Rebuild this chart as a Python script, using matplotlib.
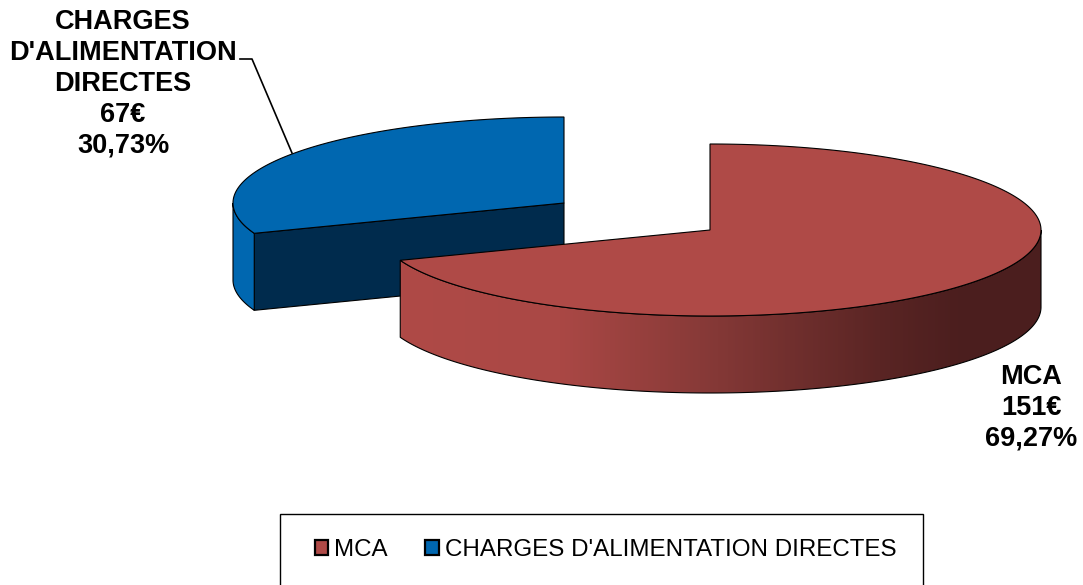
import numpy as np
import matplotlib
matplotlib.use("Agg")
import matplotlib.pyplot as plt
from matplotlib.patches import Polygon, Rectangle, Patch
from matplotlib.colors import LinearSegmentedColormap

categories = ["MCA", "CHARGES D'ALIMENTATION DIRECTES"]
values = [151, 67]
percent_labels = ["69,27%", "30,73%"]
value_labels = ["151€", "67€"]

plt.rcParams['font.family'] = ['Liberation Sans', 'DejaVu Sans']
W, H = 1083, 585
fig = plt.figure(figsize=(W / 100, H / 100), dpi=100)
ax = fig.add_axes([0, 0, 1, 1])
ax.axis('off')

RX, RY, DEPTH = 331, 86, 77
CENTERS = [(710, 230), (564, 203)]
TOP = ['#AF4A47', '#0067B0']
EDGE = 'black'
LW = 0.8

fracs = np.array(values) / sum(values)
ends = np.cumsum(fracs) * 2 * np.pi
starts = ends - fracs * 2 * np.pi


def arc(c, a0, a1, n=240, dy=0):
    t = np.linspace(a0, a1, n)
    return np.column_stack([c[0] + RX * np.sin(t), c[1] - RY * np.cos(t) + dy])


def band(c, a0, a1):
    return np.vstack([arc(c, a0, a1), arc(c, a1, a0, dy=DEPTH)])


# ---- blue slice
c = CENTERS[1]
a0, a1 = starts[1], ends[1]
corner = arc(c, a0, a0, 1)[0]
ax.add_patch(Polygon([corner, c, (c[0], c[1] + DEPTH), (corner[0], corner[1] + DEPTH)],
                     fc='#002B4D', ec=EDGE, lw=LW, zorder=2))
ax.add_patch(Polygon(band(c, a0, 1.5 * np.pi), fc=TOP[1], ec=EDGE, lw=LW, zorder=3))
ax.add_patch(Polygon(np.vstack([[c], arc(c, a0, a1)]), fc=TOP[1], ec=EDGE, lw=LW, zorder=4))

# ---- red slice
c = CENTERS[0]
a0, a1 = starts[0], ends[0]
wall = Polygon(band(c, np.pi / 2, a1), fc='none', ec=EDGE, lw=LW, zorder=6)
ax.add_patch(wall)
cmap = LinearSegmentedColormap.from_list(
    'wall', [(0, '#AF4A47'), (0.25, '#AA4845'), (0.47, '#883A38'), (0.75, '#5A2524'), (0.88, '#4B1E1E'), (1, '#4B1E1E')])
im = ax.imshow(np.linspace(0, 1, 641)[None, :], extent=(400, 1041, 420, 230), cmap=cmap,
               aspect='auto', zorder=5, vmin=0, vmax=1)
im.set_clip_path(wall)
ax.add_patch(Polygon(np.vstack([[c], arc(c, a0, a1)]), fc=TOP[0], ec=EDGE, lw=LW, zorder=7))

ax.set_xlim(0, W)
ax.set_ylim(H, 0)

# ---- data labels
lab = dict(fontsize=19.5, fontweight='bold', color='black', ha='center', va='center')
ax.text(1031, 408, "\n".join([categories[0], value_labels[0], percent_labels[0]]),
        linespacing=1.24, zorder=9, **lab)
ax.text(123, 84, "\n".join(["CHARGES", "D'ALIMENTATION", "DIRECTES", value_labels[1], percent_labels[1]]),
        linespacing=1.24, zorder=9, **lab)
ax.plot([240, 252, 292], [59, 59, 153], color='black', lw=1.2, zorder=9)

# ---- legend
ax.add_patch(Rectangle((279.5, 513.5), 643, 90, fc='white', ec='black', lw=1, zorder=8))
handles = [Patch(fc=TOP[0], ec='black', lw=1.6, label=categories[0]),
           Patch(fc=TOP[1], ec='black', lw=1.6, label=categories[1])]
leg = ax.legend(handles=handles, ncol=2, frameon=False, loc='center',
                bbox_to_anchor=(605.5 / W, 1 - 550 / H), bbox_transform=ax.transAxes,
                fontsize=17.4, handlelength=0.55, handleheight=0.55, handletextpad=0.25,
                columnspacing=1.57, borderpad=0)
leg.set_zorder(9)

fig.savefig('out.png', dpi=100, facecolor='white')
